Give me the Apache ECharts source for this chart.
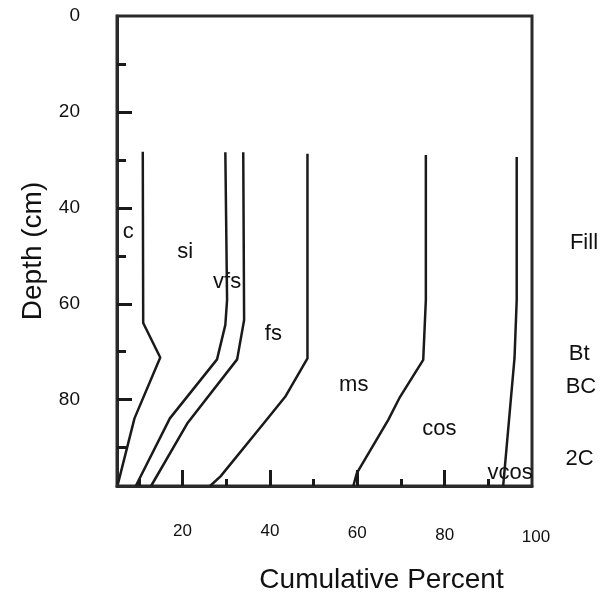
<!DOCTYPE html>
<html>
<head>
<meta charset="utf-8">
<script src="https://cdn.jsdelivr.net/npm/echarts@6/dist/echarts.min.js"></script>
<style>
html,body{margin:0;padding:0;background:#fff;}
#chart{width:604px;height:600px;}
</style>
</head>
<body>
<div id="chart"></div>
<script>
// Boundary curves: cumulative percent (x) vs depth in cm (y)
const cSiX    = [10.9, 11.0, 14.9, 9.0, 5.2];
const cSiD    = [28.3, 64.0, 71.2, 83.9, 97.6];
const siVfsX  = [29.8, 30.2, 29.8, 27.9, 17.1, 9.3];
const siVfsD  = [28.4, 59.2, 64.4, 71.6, 83.9, 98];
const vfsFsX  = [33.9, 34.1, 32.5, 21.2, 12.8];
const vfsFsD  = [28.4, 63.4, 71.6, 84.8, 98];
const fsMsX   = [48.6, 48.6, 43.5, 38.6, 28.7, 26.3];
const fsMsD   = [28.7, 71.4, 79.4, 84.9, 96.0, 98];
const msCosX  = [75.7, 75.7, 75.1, 69.8, 67.1, 59.9, 59.1];
const msCosD  = [29.0, 59.2, 71.7, 79.4, 84.2, 95.3, 98];
const cosVcosX = [96.5, 96.5, 96.0, 93.4];
const cosVcosD = [29.4, 59.2, 71.3, 98];

// Fraction labels (name, x percent, depth)
const fractionNames = ['c', 'si', 'vfs', 'fs', 'ms', 'cos', 'vcos'];
const fractionX     = [7.6, 20.6, 30.2, 40.8, 59.2, 78.8, 95.0];
const fractionD     = [45.1, 49.2, 55.4, 66.2, 76.9, 86.2, 95.3];

// Horizon labels (name, depth)
const horizonNames = ['Fill', 'Bt', 'BC', '2C'];
const horizonD     = [47.4, 70.5, 77.4, 92.4];
const horizonX     = [111.9, 110.8, 111.2, 110.9];

// Ticks
const xLabelValues = [20, 40, 60, 80, 100];
const xMajorTicks  = [20, 40, 60, 80];
const xMinorTicks  = [10, 30, 50, 70, 90];
const yLabelValues = [0, 20, 40, 60, 80];
const yMajorTicks  = [20, 40, 60, 80];
const yMinorTicks  = [10, 30, 50, 70, 90];

const ink = '#111';
const font = 'Liberation Sans, Arial, sans-serif';

function pairs(xs, ds) { return xs.map((x, i) => [x, ds[i]]); }

const boundaries = [
  pairs(cSiX, cSiD), pairs(siVfsX, siVfsD), pairs(vfsFsX, vfsFsD),
  pairs(fsMsX, fsMsD), pairs(msCosX, msCosD), pairs(cosVcosX, cosVcosD)
];

const chart = echarts.init(document.getElementById('chart'), null, {renderer: 'canvas'});

const series = boundaries.map(d => ({
  type: 'line', data: d, symbol: 'none', silent: true,
  xAxisIndex: 0, yAxisIndex: 0,
  lineStyle: {color: '#1a1a1a', width: 2.5}
}));

const textLabel = {show: true, position: 'inside', formatter: p => p.name,
                   color: ink, fontSize: 22, fontFamily: font, opacity: 1,
                   textBorderWidth: 0};
series.push({
  type: 'scatter', symbolSize: 0, clip: false, silent: true,
  xAxisIndex: 0, yAxisIndex: 0,
  itemStyle: {opacity: 1},
  data: fractionNames.map((n, i) => ({name: n, value: [fractionX[i], fractionD[i]]})),
  label: textLabel
});
series.push({
  type: 'scatter', symbolSize: 0, clip: false, silent: true,
  xAxisIndex: 0, yAxisIndex: 0,
  itemStyle: {opacity: 1},
  data: horizonNames.map((n, i) => ({name: n, value: [horizonX[i], horizonD[i]]})),
  label: textLabel
});

const xRich = {
  a: {fontSize: 17, fontFamily: font, color: ink, padding: [0, 0, 0, 0]},
  b: {fontSize: 17, fontFamily: font, color: ink, padding: [2, 0, 0, 0]},
  c: {fontSize: 17, fontFamily: font, color: ink, padding: [4, 0, 0, 0]},
  d: {fontSize: 17, fontFamily: font, color: ink, padding: [6, 0, 0, 8]}
};
const xStyleKey = {20: 'a', 40: 'a', 60: 'b', 80: 'c', 100: 'd'};

chart.setOption({
  animation: false,
  backgroundColor: '#fff',
  grid: {left: 117, right: 72, top: 16, bottom: 114, show: true,
         borderColor: '#2a2a2a', borderWidth: 3, backgroundColor: 'transparent'},
  xAxis: [{
    type: 'value', min: 5, max: 100, position: 'bottom',
    name: 'Cumulative Percent', nameLocation: 'middle', nameGap: 80,
    nameTextStyle: {color: ink, fontSize: 28, fontFamily: font, padding: [0, 0, 0, 114]},
    axisLine: {show: true, onZero: false, lineStyle: {color: '#2a2a2a', width: 3}},
    axisTick: {show: true, inside: true, length: 16, customValues: xMajorTicks,
               lineStyle: {color: '#1a1a1a', width: 3}},
    axisLabel: {show: true, customValues: xLabelValues, margin: 37, color: ink,
                fontSize: 17, fontFamily: font,
                formatter: v => '{' + (xStyleKey[v] || 'a') + '|' + v + '}',
                rich: xRich},
    splitLine: {show: false}
  }, {
    type: 'value', min: 5, max: 100, position: 'bottom',
    axisLine: {show: false, onZero: false},
    axisTick: {show: true, inside: true, length: 7, customValues: xMinorTicks,
               lineStyle: {color: '#1a1a1a', width: 3}},
    axisLabel: {show: false},
    splitLine: {show: false}
  }],
  yAxis: [{
    type: 'value', min: 0, max: 98, inverse: true, position: 'left',
    name: 'Depth (cm)', nameLocation: 'middle', nameGap: 70, nameRotate: 90,
    nameTextStyle: {color: ink, fontSize: 28, fontFamily: font},
    axisLine: {show: true, onZero: false, lineStyle: {color: '#2a2a2a', width: 3}},
    axisTick: {show: true, inside: true, length: 15, customValues: yMajorTicks,
               lineStyle: {color: '#1a1a1a', width: 3}},
    axisLabel: {show: true, customValues: yLabelValues, margin: 37, color: ink,
                fontSize: 19, fontFamily: font},
    splitLine: {show: false}
  }, {
    type: 'value', min: 0, max: 98, inverse: true, position: 'left',
    axisLine: {show: false, onZero: false},
    axisTick: {show: true, inside: true, length: 9, customValues: yMinorTicks,
               lineStyle: {color: '#1a1a1a', width: 3}},
    axisLabel: {show: false},
    splitLine: {show: false}
  }],
  series: series
});
</script>
</body>
</html>
